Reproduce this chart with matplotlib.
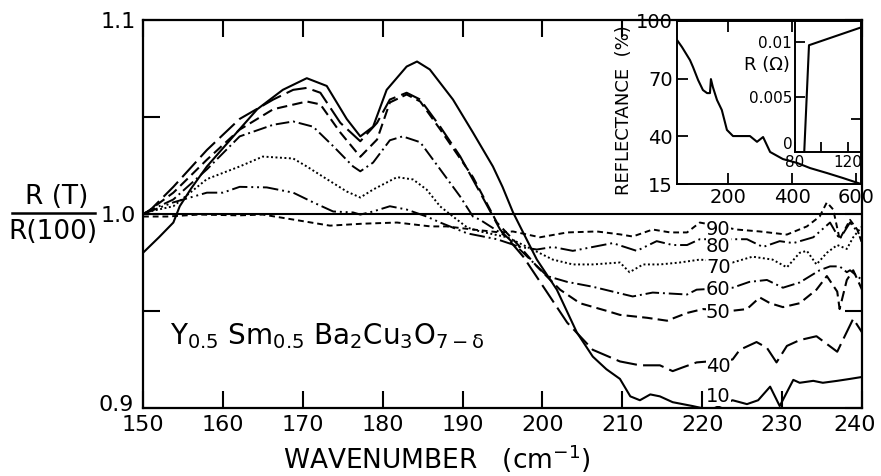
import matplotlib
matplotlib.use('Agg')
import matplotlib.pyplot as plt
import matplotlib.transforms as mtransforms
from matplotlib.lines import Line2D

plt.rcParams.update({'font.family': 'DejaVu Sans', 'mathtext.default': 'regular'})

# R(T)/R(100) spectra
wn_10 = [150, 152, 153.8, 154.6, 156, 158, 161.3, 164.3, 167.5, 170.5, 173, 175.5, 177.2, 178.8, 180.5,
         183, 184.3, 185.9, 188.8, 191.3, 193.8, 195, 196.3, 197.2, 199.3, 201.8, 204.3, 206.3, 208,
         209.7, 211, 212.2, 213.5, 214.7, 216.3, 218.8, 221, 223.8, 225.6, 227, 228.5, 229.7, 231.4,
         232.2, 233.9, 235.1, 236.9, 238.5, 240]
r_10 = [0.980, 0.988, 0.9956, 1.004, 1.013, 1.0245, 1.040, 1.054, 1.064, 1.070, 1.066, 1.049, 1.040, 1.045,
        1.064, 1.076, 1.0786, 1.0745, 1.059, 1.042, 1.0245, 1.014, 1.001, 0.9936, 0.9765, 0.961, 0.939,
        0.9265, 0.920, 0.915, 0.906, 0.904, 0.907, 0.906, 0.903, 0.901, 0.899, 0.904, 0.902, 0.904, 0.911,
        0.901, 0.9145, 0.913, 0.914, 0.913, 0.914, 0.915, 0.916]

wn_40 = [150, 150.9, 153.8, 158, 162.1, 166.3, 168.8, 170.5, 172.2, 174.7, 177.2, 179.3, 180.9, 183, 184.7,
         187.2, 189.7, 192.2, 194.7, 197.6, 200.6, 203.1, 206.3, 209.7, 212.2, 214.7, 216.3, 217.6, 219.3,
         223.8, 224.7, 226.8, 228.1, 229.3, 230.6, 232.2, 234.3, 236.9, 237.6, 238.9, 240]
r_40 = [1.000, 1.002, 1.014, 1.033, 1.049, 1.059, 1.064, 1.065, 1.0625, 1.047, 1.0375, 1.047, 1.059, 1.0625,
        1.059, 1.045, 1.0297, 1.011, 0.992, 0.978, 0.9595, 0.944, 0.930, 0.924, 0.922, 0.922, 0.919, 0.921,
        0.9235, 0.925, 0.930, 0.934, 0.931, 0.9235, 0.932, 0.935, 0.937, 0.929, 0.935, 0.946, 0.939]

wn_50 = [150, 150.5, 153.8, 158, 162.1, 166.3, 170.5, 172.2, 174.7, 177.2, 179.3, 180.9, 183, 184.7, 187.2,
         191.3, 194.3, 197.2, 199.3, 202.2, 204.7, 208.1, 209.7, 213.1, 215.6, 218.1, 220.1, 223.5, 225.6,
         227.2, 228.5, 230.1, 232.2, 234.3, 235.6, 236.9, 237.2, 238.1, 238.9, 240]
r_50 = [1.000, 1.001, 1.011, 1.028, 1.0435, 1.054, 1.058, 1.0565, 1.042, 1.0295, 1.0384, 1.0575, 1.0616,
        1.058, 1.0436, 1.019, 0.9956, 0.983, 0.973, 0.961, 0.954, 0.950, 0.948, 0.9465, 0.945, 0.949,
        0.951, 0.950, 0.951, 0.957, 0.954, 0.952, 0.954, 0.961, 0.968, 0.960, 0.951, 0.966, 0.971, 0.961]

wn_60 = [150, 150.5, 153.8, 158, 162.1, 166.3, 168.8, 171.3, 173.8, 176.3, 177.2, 178.8, 180.9, 182.5, 184.7,
         187.2, 189.7, 191.3, 192.2, 195.6, 198.1, 200.6, 203.1, 206.3, 208.8, 211.3, 213.8, 218.1, 219.3,
         223.8, 225.9, 228.1, 230.1, 232.2, 234.7, 236, 237.2, 238.1, 238.5, 240]
r_60 = [1.000, 1.001, 1.0075, 1.023, 1.040, 1.046, 1.0477, 1.045, 1.035, 1.0245, 1.022, 1.0265, 1.038, 1.040,
        1.037, 1.023, 1.009, 0.9987, 0.997, 0.988, 0.978, 0.968, 0.965, 0.9625, 0.960, 0.9575, 0.9595,
        0.9585, 0.961, 0.962, 0.965, 0.966, 0.962, 0.9647, 0.971, 0.973, 0.973, 0.970, 0.971, 0.966]

wn_70 = [150, 150.5, 153.8, 158, 162.1, 165, 168.8, 170.5, 173, 175.5, 177.2, 178.8, 181.8, 183.8, 185.5,
         187.2, 188.8, 190.6, 192.2, 195.6, 198.1, 201.3, 203.8, 206.3, 209.7, 210.9, 212.6, 214.7, 217.2,
         219.7, 223.8, 226.3, 228.8, 230.6, 232.2, 233.1, 234.3, 235.6, 236.9, 238.1, 238.9, 240]
r_70 = [1.000, 1.001, 1.004, 1.018, 1.0245, 1.0296, 1.0286, 1.0245, 1.018, 1.0116, 1.0085, 1.0126, 1.019,
        1.0178, 1.0126, 1.0039, 0.9987, 0.993, 0.991, 0.988, 0.983, 0.9765, 0.974, 0.974, 0.975, 0.970,
        0.974, 0.974, 0.975, 0.9765, 0.975, 0.978, 0.9765, 0.9725, 0.980, 0.981, 0.974, 0.980, 0.984,
        0.982, 0.988, 0.9936]

wn_80 = [150, 153.8, 158, 160, 162.1, 165.5, 168.8, 171.3, 173.8, 176.3, 177.2, 178.8, 180.9, 183, 185.5,
         187.2, 190.6, 194.3, 197.2, 199.3, 201.3, 203.8, 206.3, 208.8, 211.8, 214.3, 216.3, 218.1, 219.7,
         223.8, 225.6, 227.6, 229.7, 231.4, 233.9, 236, 237.2, 238.5, 240]
r_80 = [1.000, 1.006, 1.011, 1.011, 1.014, 1.0137, 1.011, 1.006, 1.0013, 1.0008, 0.9997, 1.0013, 1.004,
        1.0023, 0.9987, 0.9956, 0.990, 0.987, 0.983, 0.9817, 0.983, 0.981, 0.983, 0.985, 0.981, 0.986,
        0.984, 0.984, 0.987, 0.987, 0.987, 0.983, 0.986, 0.985, 0.988, 0.9956, 0.987, 0.9956, 0.988]

wn_90 = [150, 153, 157, 162, 165, 169, 173.4, 177.5, 181.8, 186, 188, 191.3, 194.7, 196.3, 199.7, 203.1,
         206.8, 209.7, 211.3, 213.8, 216, 218.1, 219.7, 224.3, 227.2, 230.6, 233.1, 234.7, 235.6, 236.4,
         237.2, 238.5, 239.4, 240]
r_90 = [0.9987, 0.9987, 0.9997, 0.9993, 0.9997, 0.997, 0.994, 0.995, 0.9956, 0.9936, 0.9936, 0.992, 0.9905,
        0.991, 0.988, 0.9905, 0.991, 0.9895, 0.9884, 0.992, 0.9905, 0.9905, 0.9956, 0.992, 0.991, 0.9894,
        0.9936, 0.9987, 1.006, 1.0023, 0.987, 0.997, 0.992, 0.985]

# curve labels (temperature in K) and where they sit
temps = ['90', '80', '70', '60', '50', '40', '10']
label_wn = 222
label_r = [0.992, 0.983, 0.9725, 0.961, 0.949, 0.9214, 0.906]

# inset: reflectance spectrum
refl_wn = [40, 55.6, 80.6, 90, 106, 121, 134, 143, 146, 152, 165, 180, 196, 215, 268, 290, 309, 331, 371,
           415, 456, 509, 559, 615]
refl_pct = [90.1, 86.4, 79.6, 76, 69.2, 64, 62.4, 62.4, 69.7, 65.6, 58.8, 53.6, 43.2, 40, 40, 37, 39.5,
            31.7, 28, 26, 23.3, 20.7, 18.1, 15]

# inset of inset: resistance vs temperature
res_T = [87, 90.6, 129.6]
res_ohm = [0.0, 0.0097, 0.0113]

fig = plt.figure(figsize=(8.81, 4.76), dpi=100)
ax = fig.add_axes([143/881, 1-408/476, 719/881, 388/476])

ax.axhline(1.0, color='black', lw=1.5)
ax.plot(wn_90, r_90, color='black', lw=1.4, ls=(0, (3, 2)))
ax.plot(wn_80, r_80, color='black', lw=1.4, ls=(0, (8, 2, 1, 2, 1, 2)))
ax.plot(wn_70, r_70, color='black', lw=1.4, ls=(0, (1, 1.3)))
ax.plot(wn_60, r_60, color='black', lw=1.4, ls=(0, (7, 2, 1, 2)))
ax.plot(wn_50, r_50, color='black', lw=1.5, ls=(0, (5, 2.5)))
ax.plot(wn_40, r_40, color='black', lw=1.5, ls=(0, (10, 3)))
ax.plot(wn_10, r_10, color='black', lw=1.5)

for t, y in zip(temps, label_r):
    ax.text(label_wn, y, t, fontsize=14, ha='center', va='center',
            bbox=dict(facecolor='white', edgecolor='none', pad=0.2))

ax.text(153.4, 0.933, r'Y$_{0.5}$ Sm$_{0.5}$ Ba$_{2}$Cu$_{3}$O$_{7-δ}$', fontsize=20, ha='left',
        va='baseline')

ax.set_xlim(150, 240)
ax.set_ylim(0.9, 1.1)
ax.set_xticks(range(150, 241, 10))
ax.set_yticks([0.9, 1.0, 1.1])
ax.set_yticklabels(['0.9', '1.0', '1.1'])
ax.set_yticks([0.95, 1.05], minor=True)
ax.tick_params(which='both', direction='in', top=True, right=True, length=12, width=1.5,
               labelsize=16, pad=5)
for s in ax.spines.values():
    s.set_linewidth(1.6)
# last x label sits a little to the left, and 0.9 a little higher, as in the original
last = ax.get_xticklabels()[-1]
last.set_transform(last.get_transform() + mtransforms.ScaledTranslation(-7/100, 0, fig.dpi_scale_trans))
low = ax.get_yticklabels()[0]
low.set_transform(low.get_transform() + mtransforms.ScaledTranslation(-2/100, 5/100, fig.dpi_scale_trans))

# y label as a fraction
fig.text(57/881, 1-197/476, 'R (T)', fontsize=19, ha='center', va='center')
fig.text(53/881, 1-232/476, 'R(100)', fontsize=19, ha='center', va='center')
fig.add_artist(Line2D([12/881, 95/881], [1-213/476, 1-213/476], color='black', lw=1.8))

fig.text(437/881, 1-459/476, 'WAVENUMBER   (cm$^{-1}$)', fontsize=19, ha='center', va='center')

# reflectance inset
axr = fig.add_axes([677/881, 1-184/476, 184/881, 163/476])
axr.plot(refl_wn, refl_pct, color='black', lw=1.5)
axr.set_xlim(40, 615)
axr.set_ylim(15, 100)
axr.set_xticks([200, 400, 600])
axr.set_yticks([15, 40, 70, 100])
axr.tick_params(direction='in', top=True, right=True, length=8, width=1.3, labelsize=14, pad=3)
for s in axr.spines.values():
    s.set_linewidth(1.4)
fig.text(624/881, 1-110/476, 'REFLECTANCE  (%)', fontsize=13, rotation=90, ha='center', va='center')

# resistance inset
axt = fig.add_axes([795/881, 1-152/476, 66/881, 131/476])
axt.plot(res_T, res_ohm, color='black', lw=1.5)
axt.set_xlim(80, 130)
axt.set_ylim(0, 0.0119)
axt.set_xticks([80, 100, 120])
axt.set_xticklabels(['80', '', '120'])
axt.set_yticks([0, 0.005, 0.01])
axt.set_yticklabels(['0', '0.005', '0.01'])
axt.set_yticks([0.003], minor=True)
axt.tick_params(direction='in', length=7, width=1.3, labelsize=11, pad=2)
axt.tick_params(which='minor', direction='in', left=False, right=True, length=7, width=1.3)
axt.get_yticklabels()[0].set_verticalalignment('bottom')
for s in axt.spines.values():
    s.set_linewidth(1.4)
fig.text(767/881, 1-65/476, 'R (Ω)', fontsize=13, ha='center', va='center')

fig.savefig('out.png', dpi=100)
